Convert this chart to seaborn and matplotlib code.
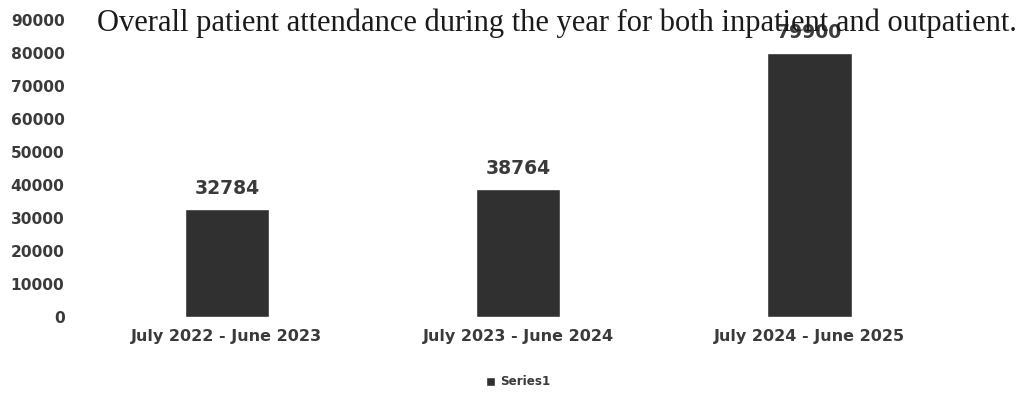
import matplotlib
matplotlib.use("Agg")
import matplotlib.pyplot as plt
import seaborn as sns
import pandas as pd

periods = ["July 2022 - June 2023", "July 2023 - June 2024", "July 2024 - June 2025"]
attendance = [32784, 38764, 79900]
series_name = ["Series1", "Series1", "Series1"]
y_ticks = [0, 10000, 20000, 30000, 40000, 50000, 60000, 70000, 80000, 90000]

df = pd.DataFrame({"period": periods, "attendance": attendance, "series": series_name})

sns.set_theme(style="white")
plt.rcParams["font.family"] = ["DejaVu Sans"]

text_color = "#3a3a3a"
bar_color = "#303030"

fig = plt.figure(figsize=(10.28, 4.01), dpi=100)
ax = fig.add_axes([0.079, 0.2095, 0.850, 0.741])

sns.barplot(data=df, x="period", y="attendance", hue="series",
            palette=[bar_color], width=0.29, ax=ax, saturation=1)

ax.set_ylim(0, 90000)
ax.set_yticks(y_ticks)
ax.set_yticklabels([str(v) for v in y_ticks])
ax.set_xlabel("")
ax.set_ylabel("")
for s in ax.spines.values():
    s.set_visible(False)
ax.tick_params(axis="y", length=0, colors=text_color, labelsize=11.2, pad=12)
ax.tick_params(axis="x", length=0, colors=text_color, labelsize=11.5, pad=9)
for lbl in ax.get_yticklabels():
    lbl.set_fontweight("bold")
for lbl in ax.get_xticklabels():
    lbl.set_fontweight("bold")

for cont in ax.containers:
    ax.bar_label(cont, fmt="%d", padding=8, fontsize=13.5,
                 fontweight="bold", color=text_color)

ax.legend(loc="upper center", bbox_to_anchor=(0.5, -0.16), frameon=False,
          handlelength=0.8, handleheight=0.8, handletextpad=0.4,
          prop={"size": 8.6, "weight": "bold"}, labelcolor=text_color)

fig.text(0.542, 0.942, "Overall patient attendance during the year for both inpatient and outpatient.",
         ha="center", va="center", fontsize=22, family="Liberation Serif",
         color="#1a1a1a", zorder=10)

fig.savefig("out.png", dpi=100)
